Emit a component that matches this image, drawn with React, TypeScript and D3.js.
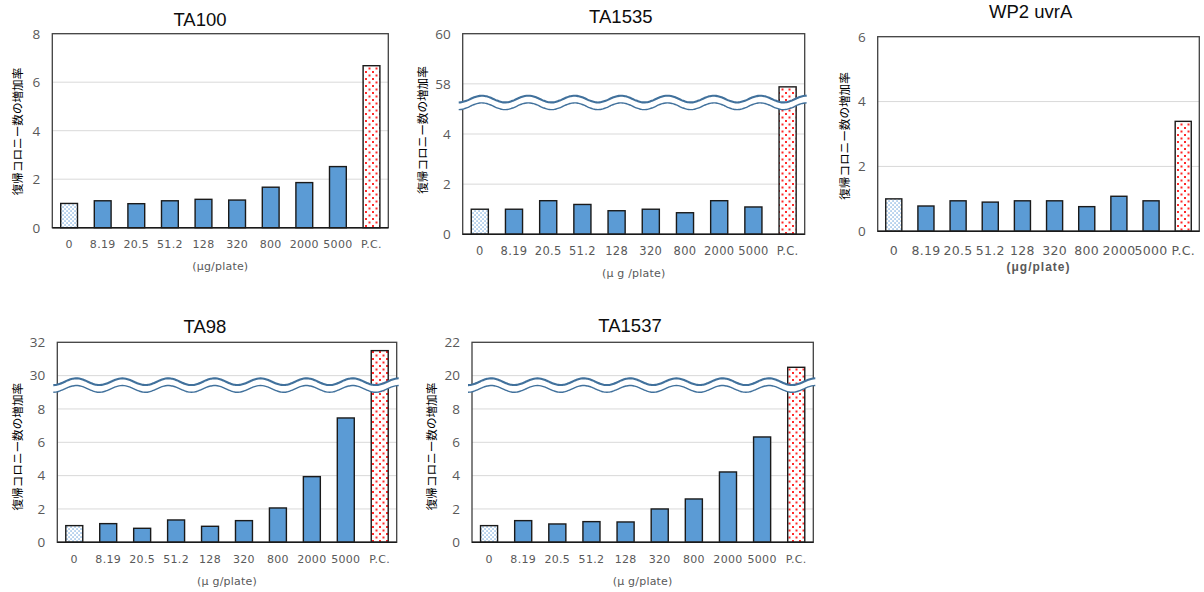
import React from "react";
import * as d3 from "d3";

// ---------- data ----------
const categories = ["0", "8.19", "20.5", "51.2", "128", "320", "800", "2000", "5000", "P.C."];

const ta100Values = [1.0, 1.11, 0.99, 1.11, 1.17, 1.14, 1.67, 1.86, 2.52, 6.68];
const ta1535Values = [1.0, 1.0, 1.34, 1.19, 0.94, 1.0, 0.86, 1.34, 1.09, 57.88];
const wp2Values = [1.0, 0.78, 0.94, 0.9, 0.94, 0.94, 0.76, 1.08, 0.94, 3.39];
const ta98Values = [1.0, 1.12, 0.84, 1.34, 0.96, 1.3, 2.06, 3.94, 7.46, 31.5];
const ta1537Values = [1.0, 1.3, 1.1, 1.24, 1.22, 2.0, 2.6, 4.22, 6.32, 20.5];

const ta100TickLabels = ["0", "2", "4", "6", "8"];
const ta1535TickLabels = ["0", "2", "4", "58", "60"];
const wp2TickLabels = ["0", "2", "4", "6"];
const ta98TickLabels = ["0", "2", "4", "6", "8", "30", "32"];
const ta1537TickLabels = ["0", "2", "4", "6", "8", "20", "22"];

// axis breaks: value offset above the break, and where the break sits (axis units)
const ta1535BreakOffset = 52;
const ta1535BreakAt = 5.25;
const ta98BreakOffset = 20;
const ta98BreakAt = 9.42;
const ta1537BreakOffset = 10;
const ta1537BreakAt = 9.42;

const yAxisTitle = "復帰コロニー数の増加率";

// ---------- layout ----------
type Panel = {
  title: string;
  values: number[];
  tickLabels: string[];
  breakOffset?: number;
  breakAt?: number;
  x0: number; x1: number; y0: number; y1: number;
  titleX: number; titleY: number;
  xLabelY: number; xLabelSize: number;
  xTitle: string; xTitleY: number; xTitleBold?: boolean; xTitleSize: number;
  yTitleX: number; yTitleY: number;
};

const panels: Panel[] = [
  {
    title: "TA100", values: ta100Values, tickLabels: ta100TickLabels,
    x0: 52.3, x1: 388.3, y0: 33.7, y1: 227.7,
    titleX: 200, titleY: 26, xLabelY: 248, xLabelSize: 11,
    xTitle: "(μg/plate)", xTitleY: 270, xTitleSize: 11,
    yTitleX: 18, yTitleY: 131.5,
  },
  {
    title: "TA1535", values: ta1535Values, tickLabels: ta1535TickLabels,
    breakOffset: ta1535BreakOffset, breakAt: ta1535BreakAt,
    x0: 462.7, x1: 804.7, y0: 33.7, y1: 234.3,
    titleX: 620.8, titleY: 23.3, xLabelY: 255, xLabelSize: 11.5,
    xTitle: "(μ g /plate)", xTitleY: 277, xTitleSize: 11,
    yTitleX: 423, yTitleY: 130,
  },
  {
    title: "WP2 uvrA", values: wp2Values, tickLabels: wp2TickLabels,
    x0: 877.7, x1: 1199.3, y0: 36.7, y1: 231.3,
    titleX: 1030.7, titleY: 18.3, xLabelY: 255, xLabelSize: 12.5,
    xTitle: "(μg/plate)", xTitleY: 271, xTitleBold: true, xTitleSize: 12,
    yTitleX: 845, yTitleY: 136,
  },
  {
    title: "TA98", values: ta98Values, tickLabels: ta98TickLabels,
    breakOffset: ta98BreakOffset, breakAt: ta98BreakAt,
    x0: 57.3, x1: 396.7, y0: 342.3, y1: 542.3,
    titleX: 205, titleY: 332.7, xLabelY: 562.7, xLabelSize: 11,
    xTitle: "(μ g/plate)", xTitleY: 584.5, xTitleSize: 11,
    yTitleX: 18, yTitleY: 446.7,
  },
  {
    title: "TA1537", values: ta1537Values, tickLabels: ta1537TickLabels,
    breakOffset: ta1537BreakOffset, breakAt: ta1537BreakAt,
    x0: 472, x1: 813.3, y0: 342.3, y1: 542.3,
    titleX: 630, titleY: 331.7, xLabelY: 563, xLabelSize: 11,
    xTitle: "(μ g/plate)", xTitleY: 585, xTitleSize: 11,
    yTitleX: 432, yTitleY: 446.5,
  },
];

const BAR_BLUE = "#5B9BD5";
const WAVE = "#41719C";
const GRID = "#D9D9D9";
const TICK_TEXT = "#595959";

function ChartPanel({ p, idx }: { p: Panel; idx: number }) {
  const tickVals = p.tickLabels.map((_, i) => i * 2);
  const yMax = tickVals[tickVals.length - 1];
  const y = d3.scaleLinear().domain([0, yMax]).range([p.y1, p.y0]);
  const x = d3
    .scaleBand<string>()
    .domain(categories)
    .range([p.x0, p.x1])
    .paddingInner(0.5)
    .paddingOuter(0.25);

  const toAxis = (v: number) =>
    p.breakOffset !== undefined && p.breakAt !== undefined && v >= p.breakAt + p.breakOffset
      ? v - p.breakOffset
      : v;

  let wave: React.ReactNode = null;
  if (p.breakAt !== undefined) {
    const mid = y(p.breakAt);
    const sep = 7.2;
    const amp = 3.4;
    const xs = p.x0 - 4;
    const xe = p.x1 + 2;
    const period = (xe - xs) / 7.5;
    const n = 200;
    const pts = d3.range(n + 1).map((i) => xs + ((xe - xs) * i) / n);
    const f = (xx: number) => amp * Math.cos((2 * Math.PI * (xx - xs)) / period);
    const upper: [number, number][] = pts.map((xx) => [xx, mid - sep / 2 + f(xx)]);
    const lower: [number, number][] = pts.map((xx) => [xx, mid + sep / 2 + f(xx)]);
    const line = d3.line().curve(d3.curveBasis);
    const area = d3
      .area<[number, number]>()
      .x((d) => d[0])
      .y0((d) => d[1])
      .y1((d) => d[1] + sep);
    wave = (
      <g>
        <path d={area(upper) || ""} fill="#ffffff" stroke="none" />
        <path d={line(upper) || ""} fill="none" stroke={WAVE} strokeWidth={2.1} />
        <path d={line(lower) || ""} fill="none" stroke={WAVE} strokeWidth={1.4} />
      </g>
    );
  }

  const cx = (p.x0 + p.x1) / 2;

  return (
    <g>
      <text
        x={p.titleX}
        y={p.titleY}
        textAnchor="middle"
        fontFamily="'Liberation Sans', Arial, sans-serif"
        fontSize={18.5}
        fill="#0d0d0d"
      >
        {p.title}
      </text>

      {/* gridlines */}
      {tickVals.slice(1, -1).map((t) => (
        <line key={t} x1={p.x0} x2={p.x1} y1={y(t)} y2={y(t)} stroke={GRID} strokeWidth={1} />
      ))}

      {/* bars */}
      {p.values.map((v, i) => {
        const fill =
          i === 0 ? `url(#dotsBlue${idx})` : i === categories.length - 1 ? `url(#dotsRed${idx})` : BAR_BLUE;
        const top = y(toAxis(v));
        return (
          <rect
            key={i}
            x={x(categories[i])}
            y={top}
            width={x.bandwidth()}
            height={p.y1 - top}
            fill={fill}
            stroke="#1a1a1a"
            strokeWidth={1.4}
          />
        );
      })}

      {/* frame */}
      <rect
        x={p.x0}
        y={p.y0}
        width={p.x1 - p.x0}
        height={p.y1 - p.y0}
        fill="none"
        stroke="#404040"
        strokeWidth={1.3}
      />
      <line x1={p.x0} x2={p.x1} y1={p.y1} y2={p.y1} stroke="#1a1a1a" strokeWidth={1.6} />

      {wave}

      {/* y tick labels */}
      {tickVals.map((t, i) => (
        <text
          key={t}
          x={p.x0 - 12}
          y={y(t)}
          dy="0.36em"
          textAnchor="end"
          fontFamily="'Open Sans', 'Liberation Sans', sans-serif"
          fontSize={13.5}
          fill={TICK_TEXT}
        >
          {p.tickLabels[i]}
        </text>
      ))}

      {/* x labels */}
      {categories.map((c) => (
        <text
          key={c}
          x={(x(c) || 0) + x.bandwidth() / 2}
          y={p.xLabelY}
          textAnchor="middle"
          fontFamily="'DejaVu Sans', sans-serif"
          fontSize={p.xLabelSize}
          letterSpacing={0.3}
          fill={TICK_TEXT}
        >
          {c}
        </text>
      ))}

      <text
        x={cx}
        y={p.xTitleY}
        textAnchor="middle"
        fontFamily={p.xTitleBold ? "'Liberation Sans', Arial, sans-serif" : "'DejaVu Sans', sans-serif"}
        fontWeight={p.xTitleBold ? "bold" : "normal"}
        letterSpacing={p.xTitleBold ? 1 : 0.2}
        fontSize={p.xTitleSize}
        fill={TICK_TEXT}
      >
        {p.xTitle}
      </text>

      <text
        transform={`translate(${p.yTitleX},${p.yTitleY}) rotate(-90)`}
        textAnchor="middle"
        dy="0.36em"
        fontFamily="'Noto Sans CJK JP', sans-serif"
        fontSize={11.6}
        fill="#000"
      >
        {yAxisTitle}
      </text>
    </g>
  );
}

export default function App() {
  return (
    <svg
      width={1204}
      height={592}
      style={{ position: "absolute", left: 0, top: 0, background: "#fff" }}
    >
      <defs>
        {panels.map((_, idx) => (
          <React.Fragment key={idx}>
            <pattern id={`dotsBlue${idx}`} width={4} height={4} patternUnits="userSpaceOnUse">
              <rect width={4} height={4} fill="#ffffff" />
              <rect x={0.3} y={0.3} width={1.5} height={1.5} fill="#8DB8E3" />
              <rect x={2.3} y={2.3} width={1.5} height={1.5} fill="#8DB8E3" />
            </pattern>
            <pattern id={`dotsRed${idx}`} width={7} height={7} patternUnits="userSpaceOnUse">
              <rect width={7} height={7} fill="#ffffff" />
              <rect x={1} y={1} width={2} height={2} fill="#FF2A2A" />
              <rect x={4.5} y={4.5} width={2} height={2} fill="#FF2A2A" />
            </pattern>
          </React.Fragment>
        ))}
      </defs>
      <rect width={1204} height={592} fill="#fff" />
      {panels.map((p, i) => (
        <ChartPanel key={p.title} p={p} idx={i} />
      ))}
    </svg>
  );
}
